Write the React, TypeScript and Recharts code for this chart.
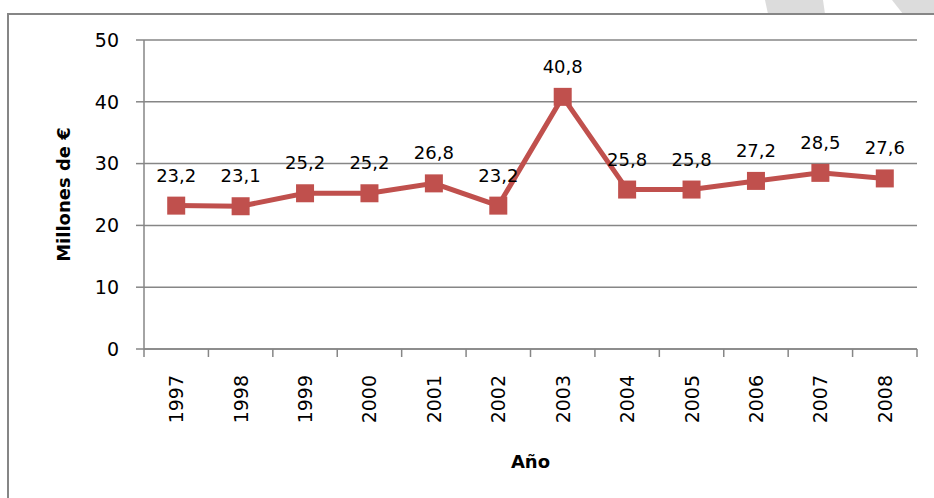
import { LineChart, Line, XAxis, YAxis, CartesianGrid, LabelList } from "recharts";

const anios = ["1997", "1998", "1999", "2000", "2001", "2002", "2003", "2004", "2005", "2006", "2007", "2008"];
const millones = [23.2, 23.1, 25.2, 25.2, 26.8, 23.2, 40.8, 25.8, 25.8, 27.2, 28.5, 27.6];
const yTicks = [0, 10, 20, 30, 40, 50];

const rojo = "#C0504D";
const gris = "#868686";

const data = anios.map((anio, i) => ({ pos: i + 0.5, anio, valor: millones[i] }));
const limites = anios.map((_, i) => i).concat(anios.length);
const centros = data.map((d) => d.pos);

function YearTick({ x, y, payload }: any) {
  const txt = anios[Math.floor(payload.value)];
  const ty = y + 18;
  return (
    <text
      x={x}
      y={ty}
      transform={`rotate(-90 ${x} ${ty})`}
      textAnchor="end"
      dominantBaseline="central"
      fontSize={19}
      fill="#000"
    >
      {txt}
    </text>
  );
}

function YTitle({ viewBox }: any) {
  const x = viewBox.x + 63;
  const y = viewBox.y + viewBox.height / 2;
  return (
    <text
      x={x}
      y={y}
      transform={`rotate(-90 ${x} ${y})`}
      textAnchor="middle"
      dominantBaseline="central"
      fontSize={18}
      fontWeight="bold"
      fill="#000"
    >
      Millones de €
    </text>
  );
}

function SquareDot({ cx, cy, index }: any) {
  return <rect key={`dot-${index}`} x={cx - 9} y={cy - 9} width={18} height={18} fill={rojo} />;
}

export default function App() {
  return (
    <div
      style={{
        position: "absolute",
        left: 0,
        top: 0,
        width: 934,
        height: 498,
        overflow: "hidden",
        background: "#fff",
        fontFamily: "'DejaVu Sans', sans-serif",
      }}
    >
      <svg width={934} height={14} style={{ position: "absolute", left: 0, top: 0 }}>
        <polygon points="765,0 823,0 825,14 768,14" fill="#dcdcdc" />
        <polygon points="892,0 934,0 934,14 903,14" fill="#dcdcdc" />
      </svg>
      <div
        style={{
          position: "absolute",
          left: 7,
          top: 13,
          width: 1000,
          height: 1000,
          border: `2px solid ${gris}`,
        }}
      />
      <div style={{ position: "absolute", left: 0, top: 0 }}>
        <LineChart width={934} height={498} data={data} margin={{ top: 40, right: 17, bottom: 0, left: 0 }}>
          <CartesianGrid xAxisId="a" vertical={false} stroke={gris} strokeWidth={1.5} />
          <XAxis
            xAxisId="a"
            dataKey="pos"
            type="number"
            domain={[0, anios.length]}
            ticks={limites}
            interval={0}
            height={8}
            tickSize={8}
            tickFormatter={() => ""}
            axisLine={{ stroke: gris, strokeWidth: 1.5 }}
            tickLine={{ stroke: gris, strokeWidth: 1.5 }}
          />
          <XAxis
            xAxisId="b"
            dataKey="pos"
            type="number"
            domain={[0, anios.length]}
            ticks={centros}
            interval={0}
            height={141}
            tickSize={0}
            tickMargin={0}
            axisLine={false}
            tickLine={false}
            tick={<YearTick />}
            label={{ value: "Año", position: "insideBottom", offset: 30, fontSize: 18, fontWeight: "bold", fill: "#000" }}
          />
          <YAxis
            domain={[0, 50]}
            ticks={yTicks}
            width={144}
            tickSize={8}
            tickMargin={17}
            tick={{ fontSize: 19, fill: "#000" }}
            axisLine={{ stroke: gris, strokeWidth: 1.5 }}
            tickLine={{ stroke: gris, strokeWidth: 1.5 }}
            label={(p: any) => <YTitle {...p} />}
          />
          <Line
            xAxisId="a"
            dataKey="valor"
            stroke={rojo}
            strokeWidth={5}
            dot={(p: any) => <SquareDot key={`d-${p.index}`} {...p} />}
            activeDot={false}
            isAnimationActive={false}
          >
            <LabelList
              dataKey="valor"
              position="top"
              offset={24}
              fontSize={18}
              fill="#000"
              formatter={(v: any) => String(v).replace(".", ",")}
            />
          </Line>
        </LineChart>
      </div>
    </div>
  );
}
